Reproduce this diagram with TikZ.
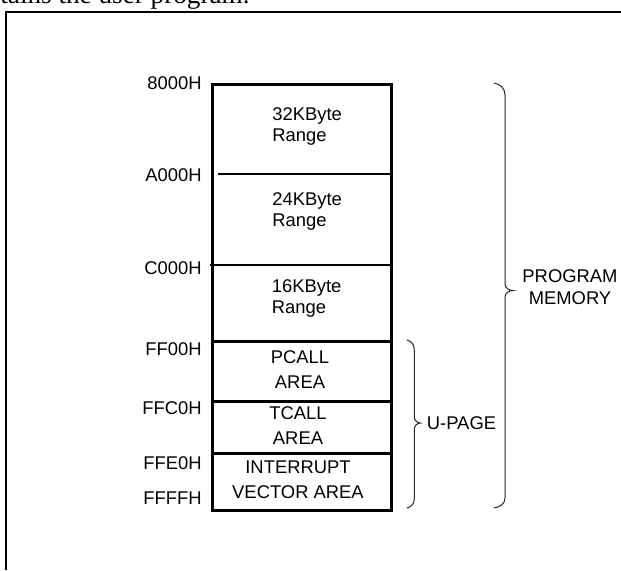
\documentclass[tikz,border=0pt]{standalone}
\usepackage{fontspec}
\setmainfont{Liberation Sans}
\newfontfamily\bodyserif{Liberation Serif}

\begin{document}
\begin{tikzpicture}[x=0.5pt,y=-0.5pt,
    addr/.style={anchor=east,inner sep=0pt,font=\fontsize{9.2}{11}\selectfont},
    rangetext/.style={anchor=west,inner sep=0pt,align=left,font=\fontsize{9.2}{10.4}\selectfont},
    areatext/.style={inner sep=0pt,align=center,font=\fontsize{9.2}{12.4}\selectfont},
    bracepath/.style={line width=0.5pt,black!85}]
    \useasboundingbox (0,0) rectangle (621,570);

    % 上方正文与外框
    \node[anchor=base west,inner sep=0pt,font=\bodyserif\fontsize{13.6}{16}\selectfont] (body) at (0,3.5) {tains the user program.};
    \draw[line width=1.2pt] (6,570) -- (6,12) -- (621,12);

    % 存储区的左右边界
    \pgfmathsetmacro{\xl}{212.7} % 左边
    \pgfmathsetmacro{\xr}{391.7} % 右边

    % 绘制存储区外框和分隔线
    \draw[line width=1.5pt] (\xl,84) rectangle (\xr,510);
    \draw[line width=1pt] (218,174) -- (\xr,174);
    \draw[line width=1pt] (210,265) -- (\xr,265);
    \draw[line width=1.5pt] (\xl,341) -- (\xr,341);
    \draw[line width=1.5pt] (\xl,401) -- (\xr,401);
    \draw[line width=1.5pt] (\xl,453) -- (\xr,453);

    % 地址标记
    \node[addr] (a8000) at (202,83) {8000H};
    \node[addr] (aA000) at (202,175) {A000H};
    \node[addr] (aC000) at (202,268) {C000H};
    \node[addr] (aFF00) at (202,349) {FF00H};
    \node[addr] (aFFC0) at (202,408) {FFC0H};
    \node[addr] (aFFE0) at (202,463) {FFE0H};
    \node[addr] (aFFFF) at (202,498) {FFFFH};

    % 各区域的文字
    \node[rangetext] (r32) at (272,126.5) {32KByte\\Range};
    \node[rangetext] (r24) at (272,211.5) {24KByte\\Range};
    \node[rangetext] (r16) at (271.5,298.5) {16KByte\\Range};
    \node[areatext] (pcall) at (300,369.5) {PCALL\\AREA};
    \node[areatext] (tcall) at (298,425.5) {TCALL\\AREA};
    \node[areatext] (vect) at (298,480) {INTERRUPT\\VECTOR AREA};

    % 右侧的大括号
    \draw[bracepath] (494,83) .. controls (500,84) and (505,88) .. (505,95) -- (505,284)
        .. controls (505,288) and (509,290.5) .. (513,290.5)
        .. controls (509,290.5) and (505,293) .. (505,297) -- (505,498)
        .. controls (505,504) and (500,507) .. (494,508);
    \draw[bracepath] (407,340) .. controls (411,341) and (414.3,344) .. (414.3,350) -- (414.3,417)
        .. controls (414.3,420) and (417,423) .. (420.5,423)
        .. controls (417,423) and (414.3,426) .. (414.3,429) -- (414.3,499)
        .. controls (414.3,504) and (411,507) .. (407,508);
    \node[inner sep=0pt,anchor=west,font=\fontsize{9.2}{11}\selectfont] (upage) at (426.5,423) {U-PAGE};
    \node[areatext,font=\fontsize{9.2}{11}\selectfont] (progmem) at (570,287) {PROGRAM\\MEMORY};
\end{tikzpicture}
\end{document}
